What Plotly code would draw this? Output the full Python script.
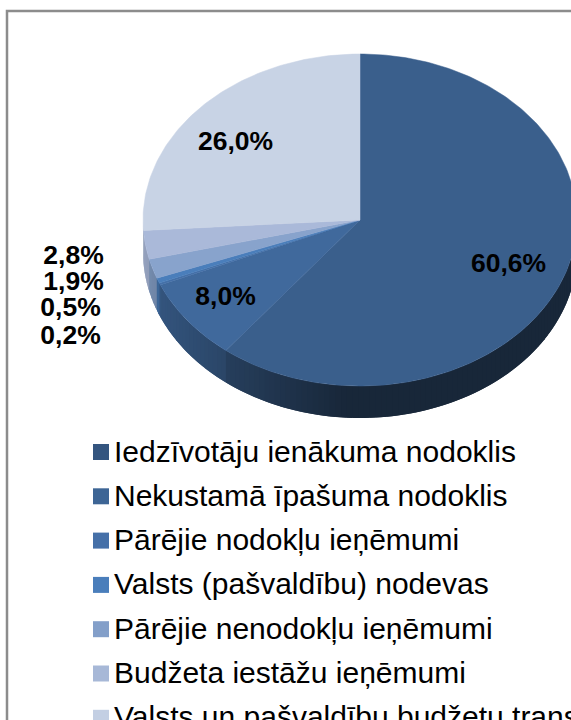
import numpy as np
import plotly.graph_objects as go

# Data
categories = [
    "Iedzīvotāju ienākuma nodoklis",
    "Nekustamā īpašuma nodoklis",
    "Pārējie nodokļu ieņēmumi",
    "Valsts (pašvaldību) nodevas",
    "Pārējie nenodokļu ieņēmumi",
    "Budžeta iestāžu ieņēmumi",
    "Valsts un pašvaldību budžetu transferti",
]
values = [60.6, 8.0, 0.2, 0.5, 1.9, 2.8, 26.0]

# Styles
top_colors = ["#3a5f8c", "#40699c", "#4570a8", "#4a7ebb", "#88a3cc", "#aab9d9", "#c8d3e5"]
swatch_colors = ["#34557f", "#3d6595", "#4570a8", "#4a7ebb", "#839fc9", "#a7b8d7", "#c3cfe3"]
label_pos = [(508.5, 265.5), (225.5, 298.5), (70.5, 337.5), (70.5, 309.5), (73.5, 283.5), (73.5, 257), (235.5, 143.5)]
CX, CY, RX, RY, DEPTH = 360, 220, 217, 166, 32
W, H = 571, 720


def ex(a):
    return CX + RX * np.sin(a)


def ey(a):
    return CY - RY * np.cos(a)


def shade(hex_color, f):
    rgb = [int(hex_color[i:i + 2], 16) for i in (1, 3, 5)]
    return "rgb(%d,%d,%d)" % tuple(round(c * f) for c in rgb)


def side_factor(x):
    return float(np.interp(x, [143, 160, 226, 345, 580], [0.88, 0.8, 0.66, 0.41, 0.41]))


fig = go.Figure()

edges = np.radians(np.cumsum([0] + values) * 3.6)
STEP = np.radians(1.5)
END = 3 * np.pi / 2

# Side wall: overlapping narrow strips, each wedge's own colour darkened along the rim
for i, col in enumerate(top_colors):
    a0, a1 = max(edges[i], np.pi / 2), min(edges[i + 1], END)
    if a1 <= a0:
        continue
    n = max(1, int((a1 - a0) / STEP))
    steps = np.linspace(a0, a1, n + 1)
    for s0, s1 in zip(steps[:-1], steps[1:]):
        arc = np.linspace(s0, min(s1 + STEP, END), 5)
        xs = np.r_[ex(arc), ex(arc[::-1])]
        ys = np.r_[ey(arc), ey(arc[::-1]) + DEPTH]
        c = shade(col, side_factor(float(ex((s0 + s1) / 2))))
        fig.add_trace(go.Scatter(x=xs, y=ys, mode="lines", fill="toself", fillcolor=c,
                                 line=dict(width=0), hoverinfo="skip", showlegend=False))

# Top face
for i, col in enumerate(top_colors):
    arc = np.linspace(edges[i], edges[i + 1], max(2, int(np.degrees(edges[i + 1] - edges[i])) + 2))
    xs = np.r_[CX, ex(arc), CX]
    ys = np.r_[CY, ey(arc), CY]
    fig.add_trace(go.Scatter(x=xs, y=ys, mode="lines", fill="toself", fillcolor=col,
                             line=dict(color=col, width=0.5), name=categories[i], showlegend=False))

# Percent labels
labels = ["<b>%s%%</b>" % f"{v:.1f}".replace(".", ",") for v in values]
fig.add_trace(go.Scatter(x=[p[0] for p in label_pos], y=[p[1] for p in label_pos], mode="text",
                         text=labels, textposition="middle center",
                         textfont=dict(family="Liberation Sans", size=26.5, color="black"),
                         showlegend=False, hoverinfo="skip", cliponaxis=False))

# Legend
rows = [452 + 44.3 * i for i in range(len(categories))]
fig.add_trace(go.Scatter(x=[101] * len(rows), y=rows, mode="markers",
                         marker=dict(symbol="square", size=16, color=swatch_colors, line=dict(width=0)),
                         showlegend=False, hoverinfo="skip"))
fig.add_trace(go.Scatter(x=[114] * len(rows), y=[r + 2 for r in rows], mode="text", text=categories,
                         textposition="middle right",
                         textfont=dict(family="Liberation Sans", size=30, color="black"),
                         showlegend=False, hoverinfo="skip"))

fig.update_layout(
    width=W, height=H, margin=dict(l=0, r=0, t=0, b=0),
    paper_bgcolor="white", plot_bgcolor="white", showlegend=False,
    xaxis=dict(range=[0, W], visible=False, fixedrange=True),
    yaxis=dict(range=[H, 0], visible=False, fixedrange=True),
    shapes=[dict(type="rect", xref="x", yref="y", x0=7, y0=11, x1=W + 40, y1=H + 40,
                 line=dict(color="#8c8c8c", width=2.5), fillcolor="white", layer="below")],
)

fig.write_html("out.html", config=dict(displayModeBar=False),
               post_script="document.body.style.margin='0';document.documentElement.style.overflow='hidden';")
